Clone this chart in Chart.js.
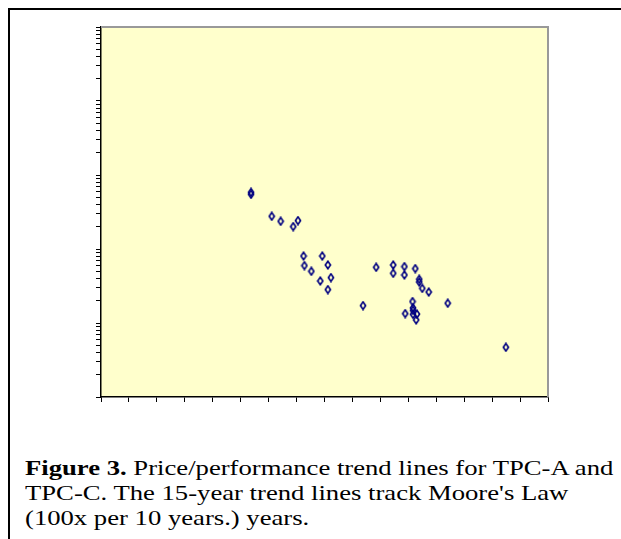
<!DOCTYPE html>
<html>
<head>
<meta charset="utf-8">
<script src="https://cdn.jsdelivr.net/npm/chart.js@4/dist/chart.umd.min.js"></script>
<style>
body { margin:0; width:621px; height:539px; background:#fff; position:relative; overflow:hidden; }
#frame { position:absolute; left:8px; top:8px; width:640px; height:560px; border-left:2px solid #000; border-top:2px solid #000; }
#wrap { position:absolute; left:0; top:0; width:621px; height:420px; }
#caption { position:absolute; left:25px; top:456px; width:520px; white-space:nowrap; font-family:"Liberation Serif","Times New Roman","DejaVu Serif",serif; font-size:21.5px; line-height:25px; color:#000; transform:scaleX(1.24); transform-origin:0 0; }
</style>
</head>
<body>
<div id="frame"></div>
<div id="wrap"><canvas id="myChart"></canvas></div>
<div id="caption"><b>Figure 3.</b> Price/performance trend lines for TPC-A and<br>TPC-C. The 15-year trend lines track Moore's Law<br>(100x per 10 years.) years.</div>
<script>
// values (x = year, y = price/performance, log scale)
var years = [1990.37, 1990.37, 1991.11, 1991.43, 1991.88, 1992.05, 1992.25, 1992.92, 1992.28, 1993.12,
  1992.53, 1993.23, 1992.85, 1993.12, 1994.85, 1995.46, 1995.86, 1996.25, 1995.46, 1995.86,
  1996.39, 1996.39, 1996.50, 1996.73, 1994.38, 1997.41, 1996.15, 1996.17, 1996.17, 1995.89,
  1996.17, 1996.31, 1996.28, 1999.49];
var pricePerf = [583, 548, 277, 237, 201, 242, 80.4, 80.4, 59.7, 60.8,
  50, 41.1, 37.0, 28.3, 56.6, 60.8, 57.8, 54.3, 47.0, 44.6,
  39.0, 35.8, 29.4, 26.2, 17.2, 18.5, 19.5, 16.0, 14.8, 13.4,
  13.1, 13.2, 11.0, 4.7];

var yearTicks = [1985, 1986, 1987, 1988, 1989, 1990, 1991, 1992, 1993, 1994, 1995, 1996, 1997, 1998, 1999, 2000, 2001];
var decades = [1, 10, 100, 1000, 10000, 100000];
var minorSteps = [1, 2, 3, 4, 5, 6, 7, 8, 9];

var points = [];
for (var i = 0; i < years.length; i++) {
  points.push({x: years[i], y: pricePerf[i]});
}

// small upright diamond marker
var marker = document.createElement('canvas');
marker.width = 8; marker.height = 10;
var mc = marker.getContext('2d');
mc.strokeStyle = '#000080';
mc.lineWidth = 1.6;
mc.beginPath();
mc.moveTo(4, 1.2); mc.lineTo(6.6, 5); mc.lineTo(4, 8.8); mc.lineTo(1.4, 5); mc.closePath();
mc.stroke();

var plotBg = {
  id: 'plotBg',
  beforeDraw: function(chart) {
    var a = chart.chartArea, c = chart.ctx;
    c.save();
    c.fillStyle = '#FFFFCC';
    c.fillRect(a.left, a.top, a.right - a.left, a.bottom - a.top);
    c.restore();
  },
  afterDraw: function(chart) {
    var a = chart.chartArea, c = chart.ctx;
    c.save();
    c.strokeStyle = '#999999';
    c.lineWidth = 2;
    c.beginPath();
    c.moveTo(a.left, a.top);
    c.lineTo(a.right, a.top);
    c.lineTo(a.right, a.bottom);
    c.stroke();
    c.restore();
  }
};

var ctx = document.getElementById('myChart').getContext('2d');
var myChart = new Chart(ctx, {
  type: 'scatter',
  data: {
    datasets: [{
      data: points,
      pointStyle: marker,
      pointRadius: 4,
      pointHoverRadius: 4
    }]
  },
  options: {
    responsive: true,
    maintainAspectRatio: false,
    animation: false,
    events: [],
    layout: { padding: { left: 96, top: 27, right: 73, bottom: 18 } },
    plugins: { legend: { display: false }, tooltip: { enabled: false } },
    scales: {
      x: {
        type: 'linear',
        min: 1985, max: 2001,
        afterBuildTicks: function(axis) {
          axis.ticks = yearTicks.map(function(v) { return {value: v}; });
        },
        ticks: { display: false },
        grid: { drawOnChartArea: false, tickLength: 5, color: '#000', tickWidth: 1 },
        border: { color: '#000', width: 1.5 }
      },
      y: {
        type: 'logarithmic',
        min: 1, max: 100000,
        afterBuildTicks: function(axis) {
          var t = [];
          for (var d = 0; d < decades.length - 1; d++) {
            for (var m = 0; m < minorSteps.length; m++) t.push({value: decades[d] * minorSteps[m]});
          }
          t.push({value: decades[decades.length - 1]});
          axis.ticks = t;
        },
        ticks: { display: false },
        grid: { drawOnChartArea: false, tickLength: 5, color: '#000', tickWidth: 1 },
        border: { color: '#000', width: 1.5 }
      }
    }
  },
  plugins: [plotBg]
});
</script>
</body>
</html>
